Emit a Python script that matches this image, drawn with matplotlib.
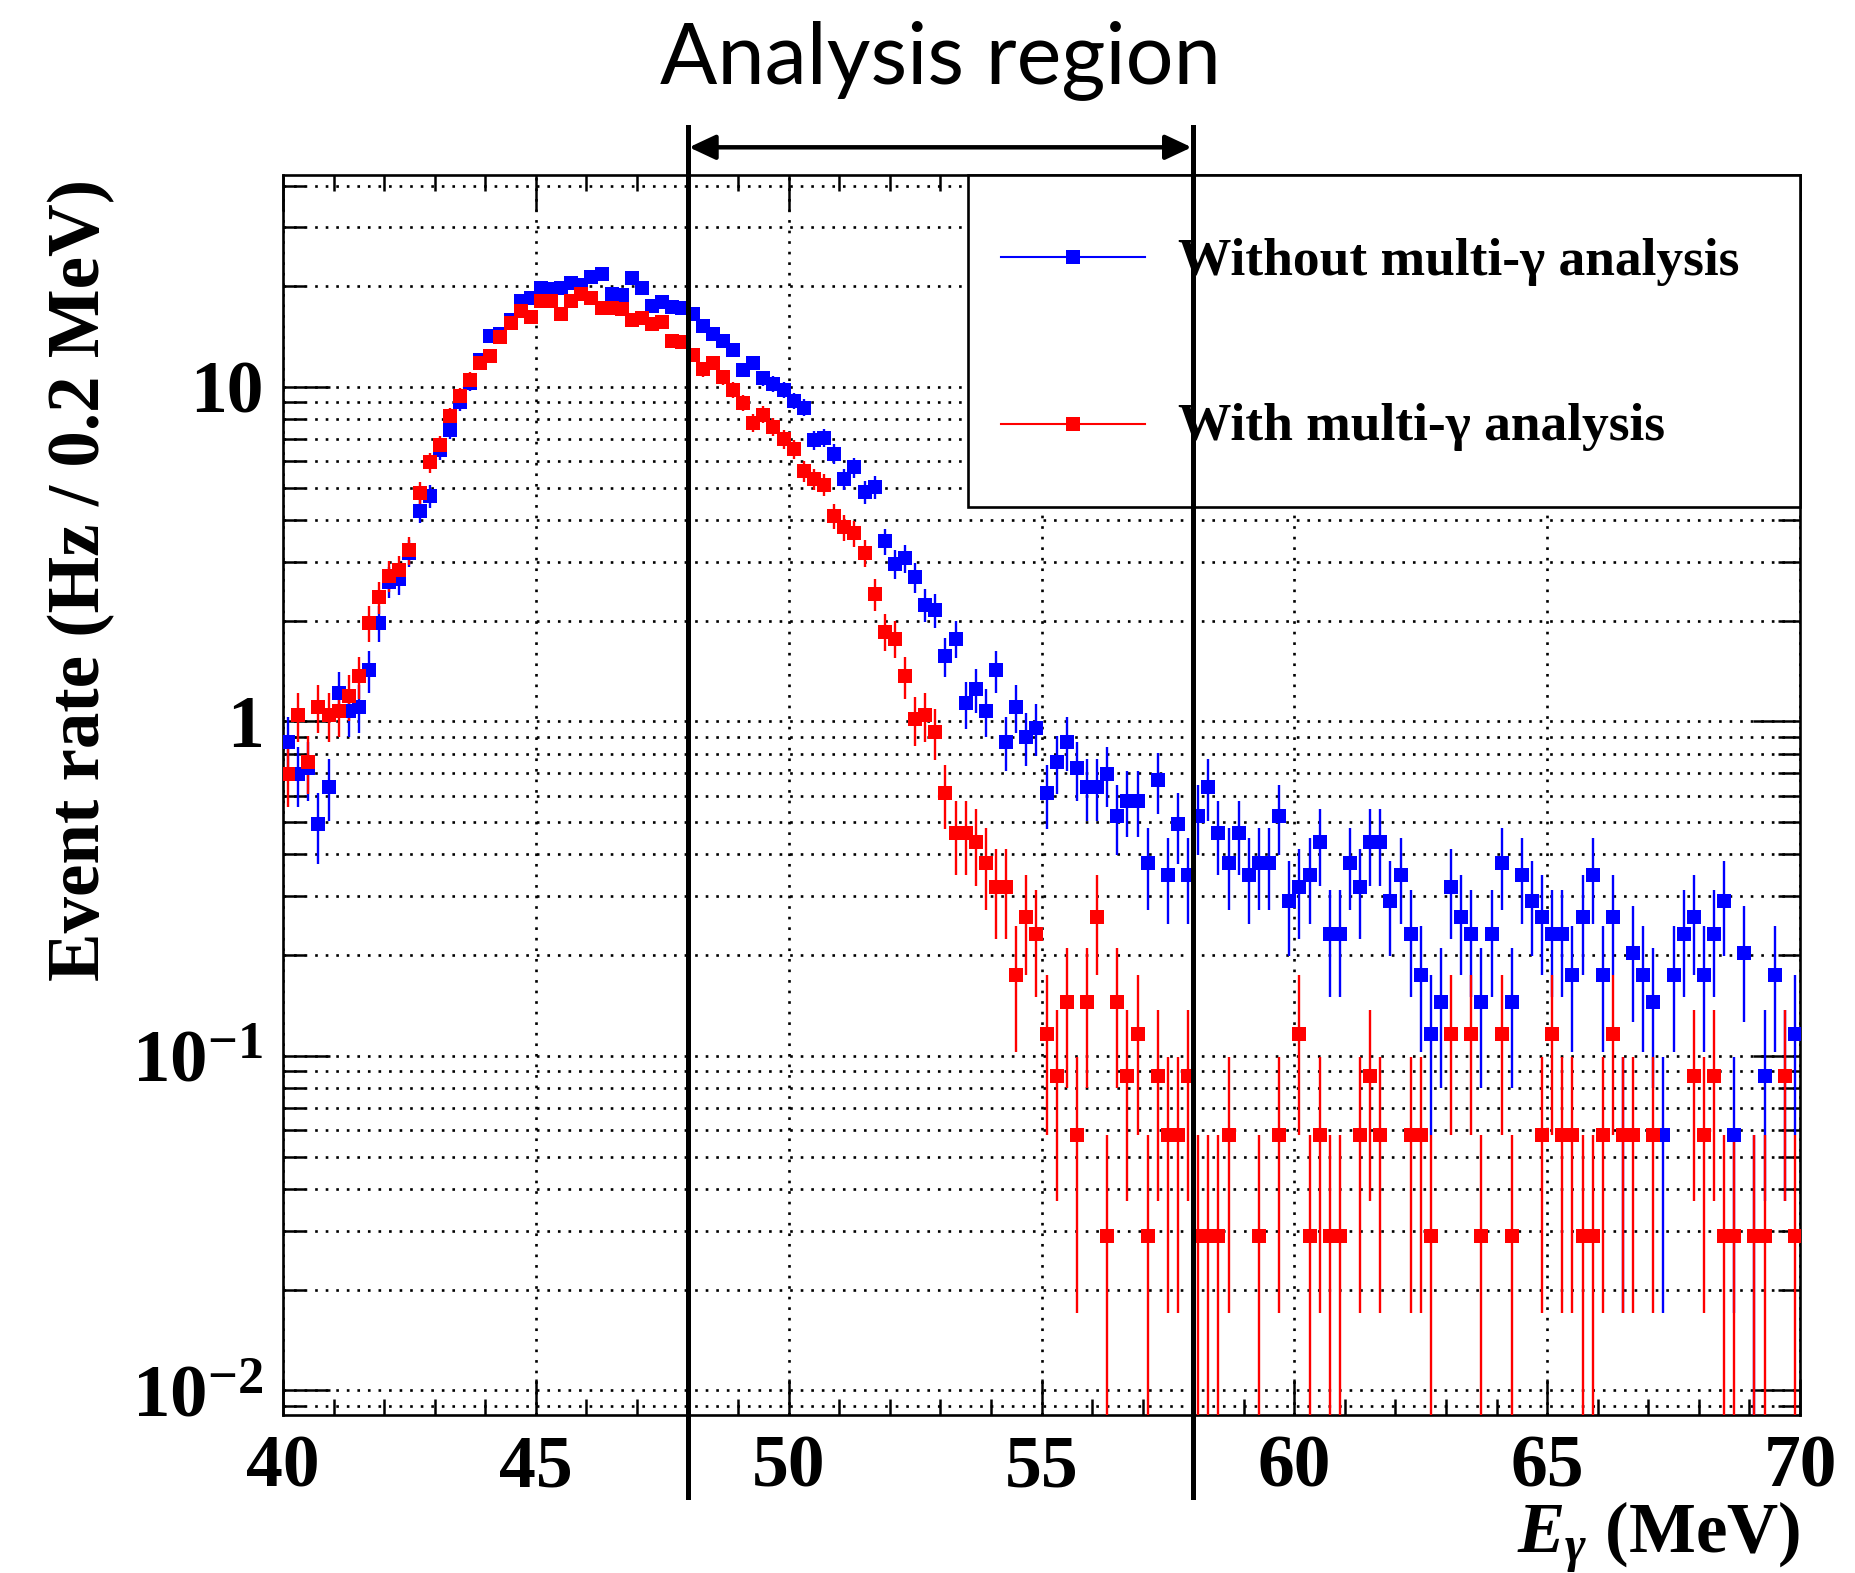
import numpy as np
import matplotlib
matplotlib.use("Agg")
import matplotlib.pyplot as plt
import matplotlib.transforms as mtransforms
from matplotlib.lines import Line2D
from matplotlib.patches import Rectangle, FancyArrowPatch
from matplotlib.ticker import MultipleLocator, LogLocator, NullFormatter, FixedLocator

plt.rcParams["font.family"] = ["Liberation Serif", "DejaVu Serif"]
plt.rcParams["font.weight"] = "bold"
plt.rcParams["mathtext.fontset"] = "custom"
plt.rcParams["mathtext.rm"] = "Liberation Serif:bold"
plt.rcParams["mathtext.bf"] = "Liberation Serif:bold"
plt.rcParams["mathtext.it"] = "Liberation Serif:bold:italic"

# binning of the spectrum: 0.2 MeV bins from 40 to 70 MeV
E_MIN, E_MAX, BIN_W = 40.0, 70.0, 0.2
HZ_PER_ENTRY = 0.029          # rate carried by a single entry in a bin
REGION = (48.0, 58.0)         # analysis region edges [MeV]

# entries per bin, 10 bins per row
entries_without = [
    30, 24, 25, 17, 22, 42, 37, 38, 49, 68,
    90, 92, 110, 147, 163, 224, 257, 310, 355, 414,
    490, 497, 548, 621, 634, 683, 676, 679, 703, 693,
    734, 748, 655, 648, 728, 683, 600, 617, 597, 593,
    569, 524, 497, 472, 445, 388, 407, 366, 352, 338,
    313, 299, 239, 243, 218, 183, 198, 167, 173, 119,
    102, 106, 93, 77, 74, 54, 61, 39, 43, 37,
    49, 30, 38, 31, 33, 21, 26, 30, 25, 22,
    22, 24, 18, 20, 20, 13, 23, 12, 17, 12,
    18, 22, 16, 13, 16, 12, 13, 13, 18, 10,
    11, 12, 15, 8, 8, 13, 11, 15, 15, 10,
    12, 8, 6, 4, 5, 11, 9, 8, 5, 8,
    13, 5, 12, 10, 9, 8, 8, 6, 9, 12,
    6, 9, 2, 7, 6, 5, 2, 6, 8, 9,
    6, 8, 10, 2, 7, 1, 3, 6, 3, 4,
]
entries_with = [
    24, 36, 26, 38, 36, 37, 41, 47, 68, 81,
    94, 98, 112, 166, 205, 231, 282, 324, 362, 407,
    428, 486, 534, 583, 559, 621, 621, 569, 621, 655,
    638, 593, 593, 590, 548, 555, 531, 538, 472, 469,
    429, 390, 407, 369, 338, 309, 269, 285, 262, 241,
    225, 193, 183, 176, 142, 131, 126, 110, 83, 64,
    61, 47, 35, 36, 32, 21, 16, 16, 15, 13,
    11, 11, 6, 9, 8, 4, 3, 5, 2, 5,
    9, 1, 5, 3, 4, 1, 3, 2, 2, 3,
    1, 1, 1, 2, 0, 0, 1, 0, 2, 0,
    4, 1, 2, 1, 1, 0, 2, 3, 2, 0,
    0, 2, 2, 1, 0, 4, 0, 4, 1, 0,
    4, 1, 0, 0, 2, 4, 2, 2, 1, 1,
    2, 4, 2, 2, 0, 2, 0, 0, 0, 3,
    2, 3, 1, 1, 0, 1, 1, 0, 3, 1,
]

SERIES = [("Without multi-\u03b3 analysis", entries_without, "#0000ff"),
          ("With multi-\u03b3 analysis", entries_with, "#ff0000")]

edges = np.arange(E_MIN, E_MAX + BIN_W / 2, BIN_W)
centers = 0.5 * (edges[:-1] + edges[1:])

fig = plt.figure(figsize=(18.55, 15.73), dpi=100)
ax = fig.add_axes([283 / 1855, 158 / 1573, 1517 / 1855, 1240 / 1573])
ax.set_yscale("log")

for label, n, col in SERIES:
    n = np.asarray(n, dtype=float)
    keep = n > 0
    rate = n[keep] * HZ_PER_ENTRY
    err = np.sqrt(n[keep]) * HZ_PER_ENTRY
    lo = np.minimum(err, rate - 1e-6)
    ax.errorbar(centers[keep], rate, yerr=[lo, err], fmt="s", color=col, ms=10, mew=0,
                elinewidth=1.7, capsize=4.8, capthick=1.7, zorder=3)

ax.set_xlim(E_MIN, E_MAX)
ax.set_ylim(0.00844, 43.0)

# ticks, ROOT style (inside, all four sides)
ax.set_xticks(np.arange(40, 71, 5))
ax.xaxis.set_minor_locator(MultipleLocator(1))
ax.yaxis.set_major_locator(FixedLocator([0.01, 0.1, 1, 10]))
ax.set_yticklabels([r"$10^{-2}$", r"$10^{-1}$", "1", "10"])
ax.yaxis.set_minor_locator(LogLocator(base=10, subs=np.arange(2, 10), numticks=20))
ax.yaxis.set_minor_formatter(NullFormatter())
ax.tick_params(axis="x", which="major", direction="in", length=26, width=1.8,
               top=True, bottom=True, labelsize=53, pad=14)
ax.tick_params(axis="x", which="minor", direction="in", length=11.5, width=1.8, top=True, bottom=True)
ax.tick_params(axis="y", which="major", direction="in", length=34, width=1.8,
               left=True, right=True, labelsize=53, pad=14)
ax.tick_params(axis="y", which="minor", direction="in", length=16, width=1.8, left=True, right=True)
for t in ax.get_yticklabels():
    if "$" in t.get_text():
        t.set_fontsize(54)
for s in ax.spines.values():
    s.set_linewidth(1.9)

dots = (0, (1.0, 3.0))
ax.set_axisbelow(True)
ax.grid(True, which="major", axis="x", color="k", lw=1.9, ls=dots)
ax.grid(True, which="both", axis="y", color="k", lw=1.9, ls=dots)

# legend box, drawn by hand to match the ROOT TLegend
x0 = (968 - 283) / 1517
y0 = (1415 - 507) / 1240
ax.add_patch(Rectangle((x0, y0), 1 - x0, 1 - y0, transform=ax.transAxes, fc="white",
                       ec="black", lw=1.9, zorder=5, clip_on=False))
for (label, _, col), yl, yt in zip(SERIES, [0.9339, 0.7992], [0.9194, 0.7863]):
    ax.plot([0.4733, 0.5682], [yl, yl], transform=ax.transAxes, color=col, lw=1.5,
            zorder=6, clip_on=False)
    ax.plot([0.5208], [yl], "s", transform=ax.transAxes, color=col, ms=10, mew=0,
            zorder=6, clip_on=False)
    ax.text(0.590, yt, label, transform=ax.transAxes, fontsize=38.5, fontweight="bold",
            va="baseline", ha="left", zorder=6)

# analysis region markers
trans = mtransforms.blended_transform_factory(ax.transData, fig.transFigure)
for xv in REGION:
    fig.add_artist(Line2D([xv, xv], [76 / 1573, 1446 / 1573], transform=trans,
                          color="k", lw=3.6, zorder=10))
y_arrow = (1573 - 147.3) / 1573
fig.add_artist(FancyArrowPatch((REGION[0] + 0.03, y_arrow), (REGION[1] - 0.03, y_arrow),
                               transform=trans, arrowstyle="<|-|>,head_length=16,head_width=7.5",
                               mutation_scale=1, lw=3.2, color="k", shrinkA=0, shrinkB=0, zorder=10))
fig.text(0.5 * (REGION[0] + REGION[1]), (1573 - 83) / 1573, "Analysis region", transform=trans,
         ha="center", va="baseline", fontsize=61, family="Lato", fontweight="normal")

# axis titles
fig.text(81.5 / 1855, (1573 - 579.5) / 1573, "Event rate (Hz / 0.2 MeV)", rotation=90,
         ha="center", va="center", fontsize=52.5, fontweight="bold")
fig.text(1800 / 1855, 20 / 1573, r"$E_{\gamma}$ (MeV)", ha="right", va="baseline",
         fontsize=51, fontweight="bold")

fig.savefig("out.png", dpi=100, facecolor="white")
